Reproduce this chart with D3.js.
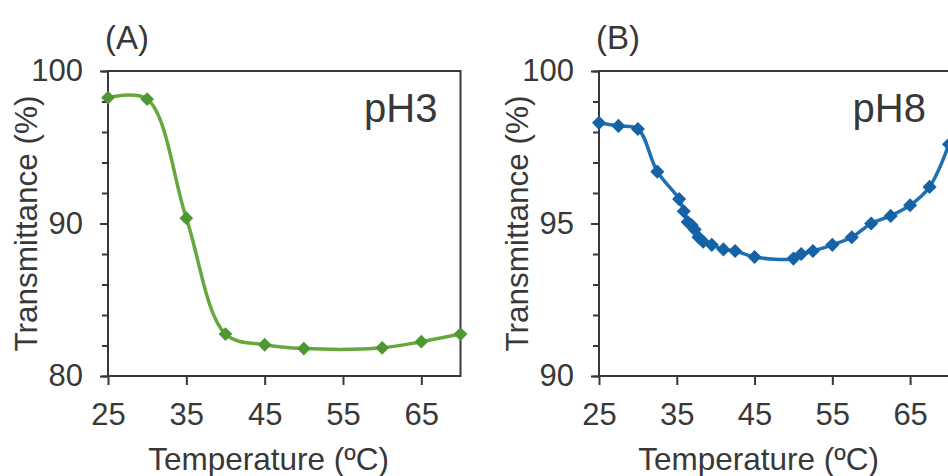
<!DOCTYPE html>
<html>
<head>
<meta charset="utf-8">
<script src="https://cdn.jsdelivr.net/npm/d3@7"></script>
<style>
  body { margin: 0; background: #ffffff; }
  svg { display: block; }
</style>
</head>
<body>
<svg id="chart"></svg>
<script>
// Panel A (pH3): temperature (ºC) and transmittance (%)
const tempA = [25, 30, 35, 40, 45, 50, 60, 65, 70];
const transA = [98.25, 98.15, 90.35, 82.75, 82.05, 81.8, 81.85, 82.25, 82.75];

// Panel B (pH8)
const tempB = [
  25, 27.5, 30, 32.5, 35.3, 35.9, 36.4, 36.9, 37.3, 37.8, 38.4, 39.5, 41,
  42.5, 45, 50, 51, 52.5, 55, 57.5, 60, 62.5, 65, 67.5, 70,
];
const transB = [
  98.3, 98.2, 98.1, 96.7, 95.8, 95.4, 95.05, 94.95, 94.8, 94.55, 94.4, 94.3,
  94.15, 94.1, 93.9, 93.85, 94.0, 94.1, 94.3, 94.55, 95.0, 95.25, 95.6, 96.2,
  97.6,
];

// Tick labels
const xTicks = [25, 35, 45, 55, 65];
const yTicksA = [80, 90, 100];
const yTicksB = [90, 95, 100];

const width = 948;
const height = 476;
const font = '"Liberation Sans", Arial, sans-serif';
const ink = '#383838';

const svg = d3
  .select('#chart')
  .attr('width', width)
  .attr('height', height)
  .attr('viewBox', `0 0 ${width} ${height}`);

/**
 * Draw one framed panel with its axes, smoothed line and diamond markers.
 */
function drawPanel(p) {
  const top = 71;
  const bottom = 376;

  const x = d3.scaleLinear().domain([25, 70]).range([p.left, p.right]);
  const y = d3.scaleLinear().domain(p.yDomain).range([bottom, top]);

  const g = svg.append('g');

  // Minor y ticks (no labels)
  const minor = g
    .append('g')
    .attr('transform', `translate(${p.left},0)`)
    .call(
      d3
        .axisLeft(y)
        .tickValues(d3.range(p.yDomain[0], p.yDomain[1] + 1e-9, p.yStep))
        .tickSize(6)
        .tickFormat('')
    );
  minor.select('.domain').remove();

  // Major y ticks with labels
  const yAxisGroup = g
    .append('g')
    .attr('transform', `translate(${p.left},0)`)
    .call(d3.axisLeft(y).tickValues(p.yTicks).tickSize(8).tickPadding(17));
  yAxisGroup.select('.domain').remove();

  // X axis
  const xAxisGroup = g
    .append('g')
    .attr('transform', `translate(0,${bottom})`)
    .call(d3.axisBottom(x).tickValues(xTicks).tickSize(9).tickPadding(18));
  xAxisGroup.select('.domain').remove();

  g.selectAll('.tick line').attr('stroke', ink).attr('stroke-width', 2);
  g.selectAll('.tick text')
    .attr('fill', ink)
    .style('font-family', font)
    .style('font-size', '31px');

  // Frame around the plot area
  g.append('rect')
    .attr('x', p.left)
    .attr('y', top)
    .attr('width', p.right - p.left)
    .attr('height', bottom - top)
    .attr('fill', 'none')
    .attr('stroke', ink)
    .attr('stroke-width', 2);

  const pts = p.xs.map((t, i) => [t, p.ys[i]]);

  // Smoothed line
  const line = d3
    .line()
    .x((d) => x(d[0]))
    .y((d) => y(d[1]))
    .curve(d3.curveCatmullRom);

  g.append('path')
    .datum(pts)
    .attr('d', line)
    .attr('fill', 'none')
    .attr('stroke', p.lineColor)
    .attr('stroke-width', p.lineWidth);

  // Diamond markers (rotated squares)
  g.append('g')
    .selectAll('path')
    .data(pts)
    .join('path')
    .attr('d', d3.symbol(d3.symbolSquare, p.markerSize)())
    .attr('transform', (d) => `translate(${x(d[0])},${y(d[1])}) rotate(45)`)
    .attr('fill', p.markerColor);

  // Axis titles
  g.append('text')
    .attr('transform', `translate(${p.left - 71},${(top + bottom) / 2}) rotate(-90)`)
    .attr('text-anchor', 'middle')
    .attr('fill', ink)
    .style('font-family', font)
    .style('font-size', '31.5px')
    .text('Transmittance (%)');

  g.append('text')
    .attr('x', x(45) + 4)
    .attr('y', 470)
    .attr('text-anchor', 'middle')
    .attr('fill', ink)
    .style('font-family', font)
    .style('font-size', '31.5px')
    .text('Temperature (ºC)');

  // Panel tag and pH label
  g.append('text')
    .attr('x', p.left - 3)
    .attr('y', 49)
    .attr('fill', ink)
    .style('font-family', font)
    .style('font-size', '33px')
    .text(p.tag);

  g.append('text')
    .attr('x', p.right - 23)
    .attr('y', 122)
    .attr('text-anchor', 'end')
    .attr('fill', ink)
    .style('font-family', font)
    .style('font-size', '40px')
    .text(p.label);
}

drawPanel({
  left: 108,
  right: 460.5,
  yDomain: [80, 100],
  yStep: 2,
  yTicks: yTicksA,
  xs: tempA,
  ys: transA,
  lineColor: '#66a83e',
  markerColor: '#4e9734',
  lineWidth: 3.5,
  markerSize: 95,
  tag: '(A)',
  label: 'pH3',
});

drawPanel({
  left: 599,
  right: 949,
  yDomain: [90, 100],
  yStep: 1,
  yTicks: yTicksB,
  xs: tempB,
  ys: transB,
  lineColor: '#1d70b4',
  markerColor: '#1463a6',
  lineWidth: 3.5,
  markerSize: 100,
  tag: '(B)',
  label: 'pH8',
});
</script>
</body>
</html>
